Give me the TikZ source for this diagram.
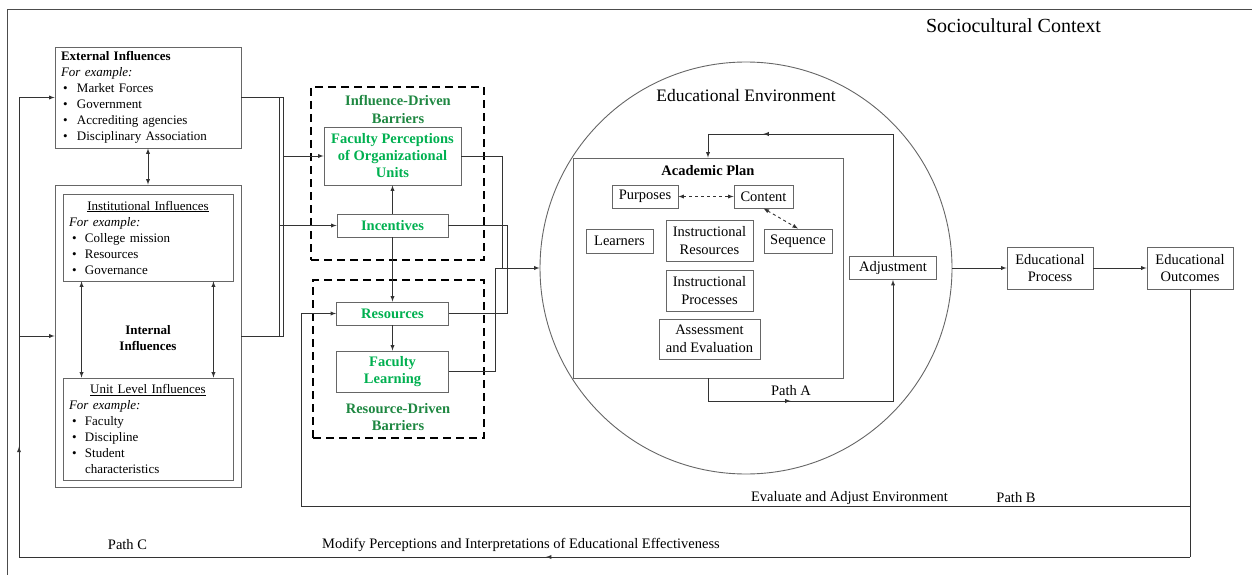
\documentclass[tikz,border=0pt]{standalone}
\usepackage{fontspec}
\setmainfont{Liberation Serif}
\usetikzlibrary{calc,decorations.markings}
\definecolor{boxgreen}{RGB}{0,176,80}
\definecolor{titlegreen}{RGB}{30,135,65}
\newcommand{\itm}{\hspace*{2pt}\makebox[14pt][l]{\textbullet}}
\newcommand{\itmb}{\hspace*{3pt}\makebox[13pt][l]{\textbullet}}

\begin{document}
\begin{tikzpicture}[x=1pt,y=-1pt,
	lbl/.style={font=\fontsize{14.5}{17.5}\selectfont, align=center},
	box/.style={lbl, draw=black!60, line width=0.9pt, rectangle, inner sep=2pt},
	listbox/.style={draw=black!60, line width=0.9pt, rectangle, inner xsep=6pt, inner ysep=2pt, align=left, font=\fontsize{13}{16}\selectfont},
	greenbox/.style={box, text=boxgreen, font=\fontsize{14.5}{17}\selectfont\bfseries},
	greentitle/.style={text=titlegreen, align=center, font=\fontsize{14.5}{17.5}\selectfont\bfseries},
	barrier/.style={draw=black, line width=2pt, dash pattern=on 8pt off 5pt, rectangle},
	conn/.style={draw=black!80, line width=0.9pt},
	midarrow/.style={postaction={decorate}, decoration={markings, mark=at position #1 with {\arrow{latex}}}}
]
\useasboundingbox (0,0) rectangle (1252,575);
\draw[black!70, line width=1pt] (7,575) -- (7,10) -- (1252,10);
\path (1013.5,26) node[font=\fontsize{20}{24}\selectfont] (socio) {Sociocultural Context};

% influences
\path (148,97.5) node[listbox, text width=174pt, minimum height=101pt] (ext) {\textbf{External Influences}\\ \textit{For example:}\\ \itm Market Forces\\ \itm Government\\ \itm Accrediting agencies\\ \itm Disciplinary Association};
\path (148,336) node[draw=black!60, line width=0.9pt, minimum width=186pt, minimum height=302pt] (int) {};
\path (148,237.5) node[listbox, text width=158pt, minimum height=87pt] (inst) {\makebox[158pt]{\underline{Institutional Influences}}\\ \textit{For example:}\\ \itmb College mission\\ \itmb Resources\\ \itmb Governance};
\path (148,429) node[listbox, text width=158pt, minimum height=102pt] (unit) {\makebox[158pt]{\underline{Unit Level Influences}}\\ \textit{For example:}\\ \itmb Faculty\\ \itmb Discipline\\ \itmb Student\\ \hspace*{16pt}characteristics};
\path (148,338) node[align=center, font=\fontsize{13}{16}\selectfont\bfseries] (intlbl) {Internal\\Influences};

\draw[conn, latex-latex] (ext.south) -- (int.north);
\draw[conn, latex-latex] ($(inst.south west)+(19,0)$) -- ($(unit.north west)+(19,0)$);
\draw[conn, latex-latex] ($(inst.south east)+(-20,0)$) -- ($(unit.north east)+(-20,0)$);

% barriers
\path (397.5,173.5) node[barrier, minimum width=173pt, minimum height=173pt] (idb) {};
\path (398,109.5) node[greentitle] (idblbl) {Influence-Driven\\Barriers};
\path (398.5,359) node[barrier, minimum width=171pt, minimum height=158pt] (rdb) {};
\path (398,417) node[greentitle] (rdblbl) {Resource-Driven\\Barriers};

\path (392.5,156) node[greenbox, minimum width=137pt, minimum height=58pt] (fp) {Faculty Perceptions\\of Organizational\\Units};
\path (392.5,225.5) node[greenbox, minimum width=111pt, minimum height=23pt] (inc) {Incentives};
\path (392.5,313.5) node[greenbox, minimum width=112pt, minimum height=23pt] (res) {Resources};
\path (392.5,371.5) node[greenbox, minimum width=112pt, minimum height=41pt] (fl) {Faculty\\Learning};

\draw[conn, -latex] (inc.north) -- (fp.south);
\draw[conn, -latex] (inc.south) -- (res.north);
\draw[conn, -latex] (res.south) -- (fl.north);

\coordinate (jOut) at (283,0);
\coordinate (jIn) at (279,0);
\draw[conn] (ext.east) -| (jOut |- int.east) -- (int.east);
\draw[conn] (ext.east -| jIn) -- (int.east -| jIn);
\draw[conn, -latex] (fp.west -| jOut) -- (fp.west);
\draw[conn, -latex] (inc.west -| jIn) -- (inc.west);

% educational environment
\path (746,268) node[draw=black!60, line width=0.9pt, circle, minimum size=412pt, inner sep=0pt] (env) {};
\path (746,96) node[font=\fontsize{17.5}{21}\selectfont] (envlbl) {Educational Environment};

\coordinate (jFP) at (502,268);
\coordinate (jInc) at (507,0);
\coordinate (jFL) at (495,0);
\draw[conn] (fp.east) -| (jFP);
\draw[conn] (inc.east) -| (jInc |- res.east) -- (res.east);
\draw[conn, -latex] (fl.east) -| (jFL |- env.west) -- (env.west);

\path (708,268) node[box, minimum width=270pt, minimum height=220pt] (plan) {};
\path (708,171) node[lbl, font=\fontsize{14.5}{17.5}\selectfont\bfseries] (planlbl) {Academic Plan};
\path (645,196.5) node[box, minimum width=66pt, minimum height=23pt] (purp) {Purposes};
\path (763.5,196.5) node[box, minimum width=59pt, minimum height=23pt] (cont) {Content};
\path (619.5,241) node[box, minimum width=67pt, minimum height=24pt] (learn) {Learners};
\path (709.5,240.5) node[box, minimum width=87pt, minimum height=41pt] (ires) {Instructional\\Resources};
\path (798,241) node[box, minimum width=68pt, minimum height=24pt] (seq) {Sequence};
\path (709.5,290.5) node[box, minimum width=87pt, minimum height=41pt] (iproc) {Instructional\\Processes};
\path (709.5,339) node[box, minimum width=101pt, minimum height=40pt] (assess) {Assessment\\and Evaluation};

\draw[conn, dashed, latex-latex] (purp) -- (cont);
\draw[conn, dashed, latex-latex] (cont.south) -- (seq.north);

\path (893,268) node[box, minimum width=87pt, minimum height=23pt] (adj) {Adjustment};
\coordinate (cTop) at (708,134);
\coordinate (cPA) at (708,401);
\draw[conn, midarrow=0.82] (adj.north) |- (cTop);
\draw[conn, -latex] (cTop) -- (plan.north);
\draw[conn, -latex, midarrow=0.32] (plan.south) -- (cPA) -| (adj.south);
\path (791,391) node[lbl] (pa) {Path A};

% outcomes
\path (1050,268) node[box, minimum width=86pt, minimum height=42pt] (ep) {Educational\\Process};
\path (1190,268) node[box, minimum width=86pt, minimum height=42pt] (eo) {Educational\\Outcomes};
\draw[conn, -latex] (env.east) -- (ep.west);
\draw[conn, -latex] (ep) -- (eo);

% feedback paths
\coordinate (cB1) at (1190,506);
\coordinate (cB2) at (301,506);
\coordinate (cC1) at (1190,557);
\coordinate (cC2) at (19,557);
\draw[conn] (eo.south) -- (cC1);
\draw[conn, -latex] (cB1) -- (cB2) |- (res.west);
\draw[conn, midarrow=0.55] (cC1) -- (cC2);
\draw[conn, midarrow=0.24] (cC2) -- (cC2 |- ext.west);
\draw[conn, -latex] (cC2 |- ext.west) -- (ext.west);
\draw[conn, -latex] (cC2 |- int.west) -- (int.west);

\path (849.5,498) node[lbl] (evl) {Evaluate and Adjust Environment};
\path (1016,498) node[lbl] (pb) {Path B};
\path (521,545) node[lbl] (modl) {Modify Perceptions and Interpretations of Educational Effectiveness};
\path (127.5,545) node[lbl] (pc) {Path C};

\end{tikzpicture}
\end{document}
